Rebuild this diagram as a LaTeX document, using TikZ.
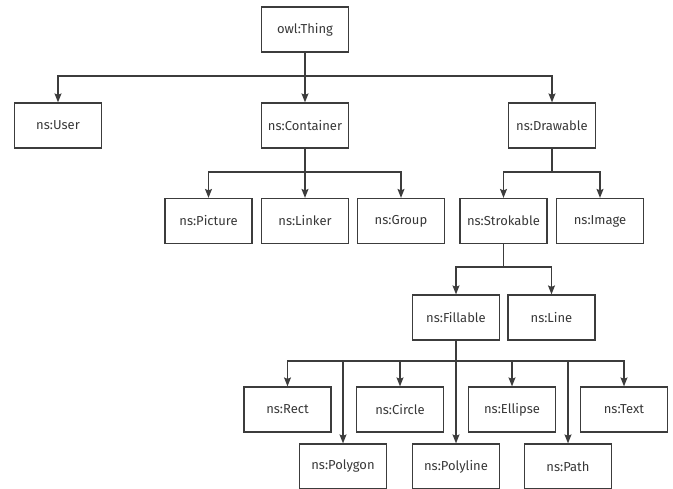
\documentclass[tikz,border=0pt]{standalone}
\usepackage{fontspec}
\setmainfont{Fira Sans}
\usepackage{tikz}
\usetikzlibrary{arrows.meta}

\definecolor{linegray}{HTML}{3C3C3C}
\definecolor{textgray}{HTML}{383838}

\begin{document}
\begin{tikzpicture}[x=1pt, y=-1pt,
  cls/.style={draw=linegray, line width=1.2pt, minimum width=87pt, minimum height=45pt,
    inner sep=0pt, text=textgray, font=\fontsize{13}{15}\selectfont},
  isa/.style={draw=linegray, line width=1.2pt, -{Stealth[length=9pt, width=7pt, inset=1.5pt]}}]
\useasboundingbox (0,0) rectangle (673,488);

% root
\node[cls] (thing) at (305,29.5) {owl:Thing};

% first level
\node[cls] (user) at (58,125.5) {ns:User};
\node[cls] (container) at (305,125.5) {ns:Container};
\node[cls] (drawable) at (552,125.5) {ns:Drawable};

% second level
\node[cls] (picture) at (208.5,221) {ns:Picture};
\node[cls] (linker) at (305,221) {ns:Linker};
\node[cls] (group) at (401,221) {ns:Group};
\node[cls] (strokable) at (503.5,221) {ns:Strokable};
\node[cls] (image) at (600,221) {ns:Image};

% third level
\node[cls] (fillable) at (456,317.5) {ns:Fillable};
\node[cls] (line) at (551.5,317.5) {ns:Line};

% shapes
\node[cls] (rect) at (287.5,409.5) {ns:Rect};
\node[cls] (circle) at (400,409.5) {ns:Circle};
\node[cls] (ellipse) at (512,409.5) {ns:Ellipse};
\node[cls] (text) at (624,409.5) {ns:Text};
\node[cls] (polygon) at (343,466.5) {ns:Polygon};
\node[cls] (polyline) at (456,466.5) {ns:Polyline};
\node[cls] (path) at (568,466.5) {ns:Path};

% bus junctions
\coordinate (j1) at (305,76);
\coordinate (j2) at (305,172);
\coordinate (j3) at (552,172);
\coordinate (j4) at (503.5,267);
\coordinate (j5) at (456,361);

\draw[line width=1.2pt, linegray] (thing.south) -- (j1);
\foreach \c in {user, container, drawable}
  \draw[isa] (j1) -| (\c);

\draw[line width=1.2pt, linegray] (container.south) -- (j2);
\foreach \c in {picture, linker, group}
  \draw[isa] (j2) -| (\c);

\draw[line width=1.2pt, linegray] (drawable.south) -- (j3);
\foreach \c in {strokable, image}
  \draw[isa] (j3) -| (\c);

\draw[line width=1.2pt, linegray] (strokable.south) -- (j4);
\foreach \c in {fillable, line}
  \draw[isa] (j4) -| (\c);

\draw[line width=1.2pt, linegray] (fillable.south) -- (j5);
\foreach \c in {rect, polygon, circle, polyline, ellipse, path, text}
  \draw[isa] (j5) -| (\c);
\end{tikzpicture}
\end{document}
